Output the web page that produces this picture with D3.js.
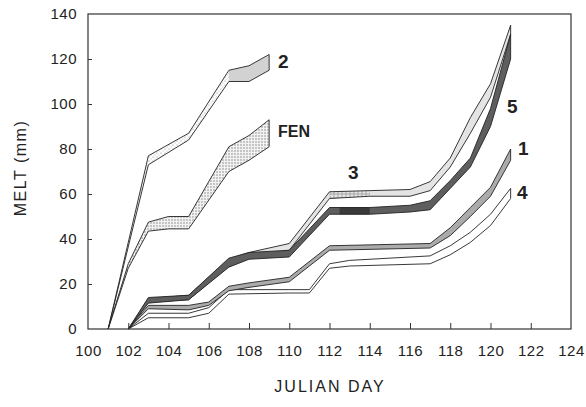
<!DOCTYPE html>
<html>
<head>
<meta charset="utf-8">
<script src="https://cdn.jsdelivr.net/npm/d3@7/dist/d3.min.js"></script>
<style>
  body { margin: 0; background: #fff; }
  text { font-family: "Liberation Sans", Arial, sans-serif; fill: #222; }
</style>
</head>
<body>
<div id="chart"></div>
<script>
// Cumulative melt (mm) by julian day, each site drawn as a band (upper / lower).
var site2Days  = [101, 103, 105, 107, 108, 109];
var site2Upper = [0, 77, 87, 115, 117, 122];
var site2Lower = [0, 73, 84, 110, 110, 115];

var fenDays  = [101, 102, 103, 104, 105, 107, 108, 109];
var fenUpper = [0, 29, 47.5, 50, 50, 81, 86, 93];
var fenLower = [0, 27, 43.5, 44.5, 44.5, 70, 75, 81];

var site3Days  = [102, 103, 105, 107, 108, 110, 112, 114, 116, 117, 118, 119, 120, 121];
var site3Upper = [0, 13.5, 15, 31, 34, 38, 61, 61.5, 62, 65.5, 76, 94, 109, 135];
var site3Lower = [0, 12, 13, 28, 31.5, 35, 58, 59, 59, 61.5, 72, 87, 103, 131];

var site5Days  = [102, 103, 105, 107, 108, 110, 112, 114, 116, 117, 118, 119, 120, 121];
var site5Upper = [0, 14, 15, 31.5, 34, 35, 54, 54, 55, 57, 66, 76, 98, 131];
var site5Lower = [0, 11.5, 13, 27.5, 31, 32, 51, 51, 52, 53, 62.5, 72, 90, 120];

var site1Days  = [102, 103, 105, 106, 107, 108, 110, 112, 117, 118, 119, 120, 121];
var site1Upper = [0, 10.5, 10.5, 12, 19, 20.5, 23, 37, 38, 45, 54, 63, 80];
var site1Lower = [0, 9, 8.5, 10.5, 17, 18.5, 21, 35, 36, 41.5, 50, 59, 75];

var site4Days  = [102, 103, 105, 106, 107, 110, 111, 112, 113, 117, 118, 119, 120, 121];
var site4Upper = [0, 7, 7, 9.5, 17.5, 17.5, 17.5, 29, 30.5, 32.5, 37, 43, 51, 62.5];
var site4Lower = [0, 5, 5, 7, 15.5, 16, 16, 27, 28, 29, 33, 38.5, 46, 58];

var xTicks = [100, 102, 104, 106, 108, 110, 112, 114, 116, 118, 120, 122, 124];
var yTicks = [0, 20, 40, 60, 80, 100, 120, 140];

function band(days, upper, lower) {
  return days.map(function(d, i) {
    return { day: d, hi: upper[i], lo: lower[i] };
  });
}

var width = 586,
  height = 407;

var margin = { top: 14, right: 15, bottom: 78, left: 88 };

var svg = d3.select('#chart')
  .append('svg')
  .attr('width', width)
  .attr('height', height);

var x = d3.scaleLinear()
  .domain([100, 124])
  .range([margin.left, width - margin.right]);

var y = d3.scaleLinear()
  .domain([0, 140])
  .range([height - margin.bottom, margin.top]);

// patterns for the stippled bands
var defs = svg.append('defs');

defs.append('pattern')
  .attr('id', 'dotsLight')
  .attr('width', 4).attr('height', 4)
  .attr('patternUnits', 'userSpaceOnUse')
  .call(function(p) {
    p.append('rect').attr('width', 4).attr('height', 4).attr('fill', '#fff');
    p.append('circle').attr('cx', 1).attr('cy', 1).attr('r', 0.6).attr('fill', '#888');
    p.append('circle').attr('cx', 3).attr('cy', 3).attr('r', 0.5).attr('fill', '#aaa');
  });

defs.append('pattern')
  .attr('id', 'dotsDense')
  .attr('width', 3).attr('height', 3)
  .attr('patternUnits', 'userSpaceOnUse')
  .call(function(p) {
    p.append('rect').attr('width', 3).attr('height', 3).attr('fill', '#f2f2f2');
    p.append('circle').attr('cx', 1).attr('cy', 1).attr('r', 0.7).attr('fill', '#777');
  });

defs.append('pattern')
  .attr('id', 'rings')
  .attr('width', 4).attr('height', 4)
  .attr('patternUnits', 'userSpaceOnUse')
  .call(function(p) {
    p.append('rect').attr('width', 4).attr('height', 4).attr('fill', '#e6e6e6');
    p.append('circle').attr('cx', 2).attr('cy', 2).attr('r', 1.2)
      .attr('fill', 'none').attr('stroke', '#777').attr('stroke-width', 0.6);
  });

var area = d3.area()
  .x(function(d) { return x(d.day); })
  .y0(function(d) { return y(d.lo); })
  .y1(function(d) { return y(d.hi); });

var lineHi = d3.line()
  .x(function(d) { return x(d.day); })
  .y(function(d) { return y(d.hi); });

var lineLo = d3.line()
  .x(function(d) { return x(d.day); })
  .y(function(d) { return y(d.lo); });

var sites = [
  { name: '2', data: band(site2Days, site2Upper, site2Lower), fill: 'url(#dotsLight)', patch: [107, 109, '#d2d2d2'] },
  { name: 'FEN', data: band(fenDays, fenUpper, fenLower), fill: 'url(#dotsDense)' },
  { name: '3', data: band(site3Days, site3Upper, site3Lower), fill: '#e4e4e4', patch: [112, 114, 'url(#rings)'] },
  { name: '5', data: band(site5Days, site5Upper, site5Lower), fill: '#5e5e5e', patch: [112.5, 114, '#3a3a3a'] },
  { name: '4', data: band(site4Days, site4Upper, site4Lower), fill: '#fff' },
  { name: '1', data: band(site1Days, site1Upper, site1Lower), fill: '#ababab' }
];

var g = svg.append('g');

sites.forEach(function(s) {
  g.append('path')
    .datum(s.data)
    .attr('d', area)
    .attr('fill', s.fill);

  if (s.patch) {
    var part = s.data.filter(function(d) {
      return d.day >= s.patch[0] && d.day <= s.patch[1];
    });
    if (part.length < 2) {
      // interpolate edges of the patch from the band itself
      var bis = d3.bisector(function(d) { return d.day; }).left;
      part = [s.patch[0], s.patch[1]].map(function(t) {
        var i = bis(s.data, t);
        var a = s.data[i - 1], b = s.data[i];
        var k = (t - a.day) / (b.day - a.day);
        return { day: t, hi: a.hi + k * (b.hi - a.hi), lo: a.lo + k * (b.lo - a.lo) };
      });
    }
    g.append('path')
      .datum(part)
      .attr('d', area)
      .attr('fill', s.patch[2]);
  }

  [lineHi, lineLo].forEach(function(ln) {
    g.append('path')
      .datum(s.data)
      .attr('d', ln)
      .attr('fill', 'none')
      .attr('stroke', '#222')
      .attr('stroke-width', 0.9);
  });
  // closing edge at the end of each band
  var last = s.data[s.data.length - 1];
  g.append('line')
    .attr('x1', x(last.day)).attr('x2', x(last.day))
    .attr('y1', y(last.lo)).attr('y2', y(last.hi))
    .attr('stroke', '#222')
    .attr('stroke-width', 0.9);
});

// frame
svg.append('rect')
  .attr('x', x(100))
  .attr('y', y(140))
  .attr('width', x(124) - x(100))
  .attr('height', y(0) - y(140))
  .attr('fill', 'none')
  .attr('stroke', '#333')
  .attr('stroke-width', 1.2);

// axes with ticks pointing inward
var xAxis = svg.append('g')
  .attr('transform', 'translate(0,' + y(0) + ')')
  .call(d3.axisBottom(x)
    .tickValues(xTicks)
    .tickSizeInner(-6)
    .tickSizeOuter(0)
    .tickPadding(16));

xAxis.select('.domain').remove();
xAxis.selectAll('.tick line')
  .attr('stroke', '#333')
  .filter(function(d) { return d === 100 || d === 124; })
  .remove();
xAxis.selectAll('text')
  .style('font-size', '15px')
  .attr('letter-spacing', '0.5px')
  .attr('fill', '#222');

var yAxis = svg.append('g')
  .attr('transform', 'translate(' + x(100) + ',0)')
  .call(d3.axisLeft(y)
    .tickValues(yTicks)
    .tickSizeInner(-4)
    .tickSizeOuter(0)
    .tickPadding(11));

yAxis.select('.domain').remove();
yAxis.selectAll('.tick line')
  .attr('stroke', '#333')
  .filter(function(d) { return d === 0 || d === 140; })
  .remove();
yAxis.selectAll('text')
  .style('font-size', '15px')
  .attr('letter-spacing', '0.5px')
  .attr('fill', '#222');

// axis titles
svg.append('text')
  .attr('x', 330)
  .attr('y', 392)
  .attr('text-anchor', 'middle')
  .style('font-size', '16px')
  .attr('letter-spacing', '2px')
  .text('JULIAN DAY');

svg.append('text')
  .attr('transform', 'translate(26,168) rotate(-90)')
  .attr('text-anchor', 'middle')
  .style('font-size', '16px')
  .attr('letter-spacing', '1.5px')
  .text('MELT  (mm)');

// site labels
var labels = [
  { t: '2', x: 278, y: 68 },
  { t: 'FEN', x: 278, y: 137 },
  { t: '3', x: 348, y: 179 },
  { t: '5', x: 507, y: 113 },
  { t: '1', x: 518, y: 155 },
  { t: '4', x: 517, y: 199 }
];

svg.selectAll('.site-label')
  .data(labels)
  .enter()
  .append('text')
  .attr('class', 'site-label')
  .attr('x', function(d) { return d.x; })
  .attr('y', function(d) { return d.y; })
  .style('font-size', function(d) { return d.t === 'FEN' ? '16px' : '19px'; })
  .style('font-weight', 'bold')
  .text(function(d) { return d.t; });
</script>
</body>
</html>
